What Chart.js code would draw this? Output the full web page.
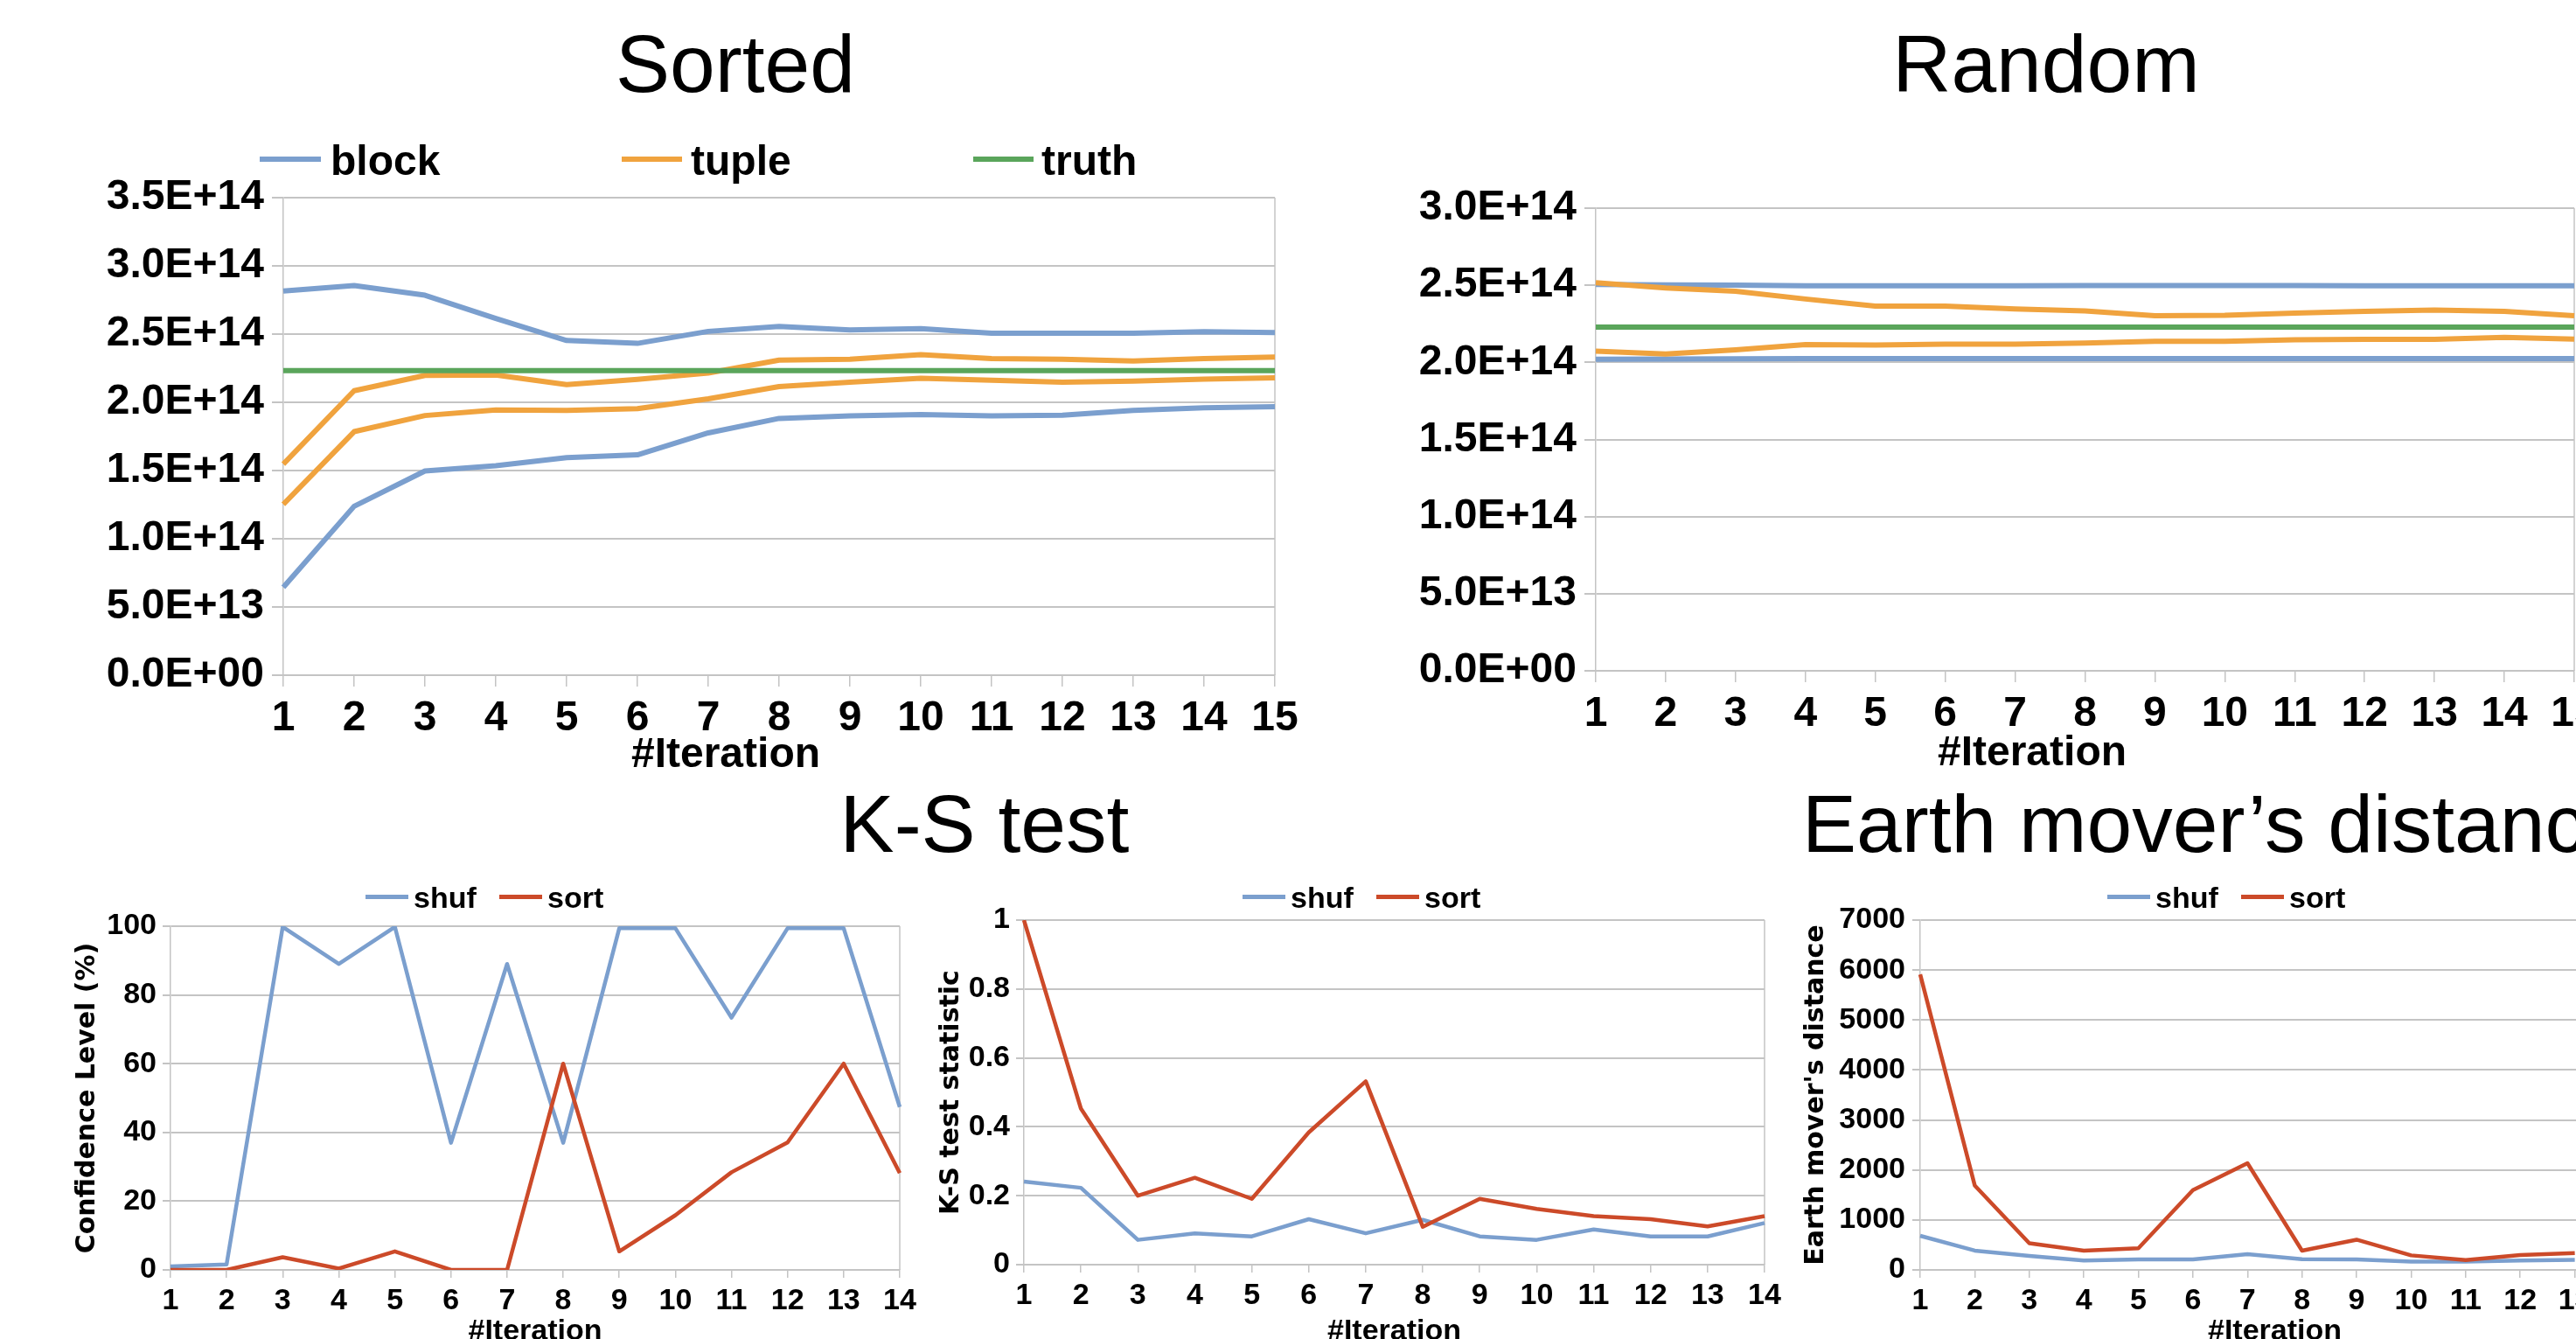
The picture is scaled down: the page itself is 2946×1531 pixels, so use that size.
<!DOCTYPE html>
<html><head><meta charset="utf-8">
<script src="https://cdn.jsdelivr.net/npm/chart.js@4.4.1/dist/chart.umd.min.js"></script>
<style>
html,body{margin:0;padding:0;background:#fff;}
body{width:2946px;height:1531px;overflow:hidden;position:relative;font-family:'Liberation Sans',Arial,sans-serif;}
canvas{position:absolute;}
.t{position:absolute;white-space:nowrap;line-height:1;color:#000;}
.ln{position:absolute;}
</style></head><body>
<script>
// ---------------- data ----------------
const iter15 = ['1','2','3','4','5','6','7','8','9','10','11','12','13','14','15'];
const iter14 = ['1','2','3','4','5','6','7','8','9','10','11','12','13','14'];

const sortedBlockHigh = [2.815e14, 2.856e14, 2.785e14, 2.615e14, 2.453e14, 2.432e14, 2.52e14, 2.556e14, 2.53e14, 2.54e14, 2.506e14, 2.506e14, 2.506e14, 2.517e14, 2.512e14];
const sortedBlockLow  = [0.644e14, 1.238e14, 1.497e14, 1.535e14, 1.594e14, 1.615e14, 1.776e14, 1.882e14, 1.90e14, 1.91e14, 1.90e14, 1.906e14, 1.94e14, 1.96e14, 1.968e14];
const sortedTupleHigh = [1.547e14, 2.085e14, 2.197e14, 2.20e14, 2.13e14, 2.168e14, 2.215e14, 2.309e14, 2.315e14, 2.35e14, 2.32e14, 2.315e14, 2.303e14, 2.32e14, 2.332e14];
const sortedTupleLow  = [1.253e14, 1.785e14, 1.903e14, 1.944e14, 1.94e14, 1.953e14, 2.026e14, 2.115e14, 2.147e14, 2.176e14, 2.162e14, 2.147e14, 2.156e14, 2.17e14, 2.179e14];
const sortedTruth     = [2.232e14, 2.232e14, 2.232e14, 2.232e14, 2.232e14, 2.232e14, 2.232e14, 2.232e14, 2.232e14, 2.232e14, 2.232e14, 2.232e14, 2.232e14, 2.232e14, 2.232e14];

const randomBlockHigh = [2.505e14, 2.503e14, 2.501e14, 2.497e14, 2.497e14, 2.497e14, 2.497e14, 2.498e14, 2.498e14, 2.498e14, 2.498e14, 2.497e14, 2.497e14, 2.497e14, 2.497e14];
const randomBlockLow  = [2.020e14, 2.022e14, 2.023e14, 2.024e14, 2.024e14, 2.025e14, 2.025e14, 2.024e14, 2.024e14, 2.024e14, 2.024e14, 2.024e14, 2.024e14, 2.024e14, 2.024e14];
const randomTupleHigh = [2.516e14, 2.482e14, 2.461e14, 2.411e14, 2.365e14, 2.365e14, 2.347e14, 2.333e14, 2.302e14, 2.305e14, 2.32e14, 2.331e14, 2.339e14, 2.331e14, 2.302e14];
const randomTupleLow  = [2.073e14, 2.055e14, 2.081e14, 2.115e14, 2.112e14, 2.118e14, 2.118e14, 2.125e14, 2.136e14, 2.136e14, 2.146e14, 2.149e14, 2.149e14, 2.162e14, 2.151e14];
const randomTruth     = [2.229e14, 2.229e14, 2.229e14, 2.229e14, 2.229e14, 2.229e14, 2.229e14, 2.229e14, 2.229e14, 2.229e14, 2.229e14, 2.229e14, 2.229e14, 2.229e14, 2.229e14];

const confShuf = [1, 1.6, 99.8, 89, 99.8, 37, 89, 37, 99.4, 99.4, 73.4, 99.4, 99.4, 47.4];
const confSort = [0, 0, 3.7, 0.4, 5.4, 0, 0, 60, 5.4, 15.9, 28.4, 37.1, 60, 28.2];

const ksShuf = [0.241, 0.223, 0.072, 0.091, 0.082, 0.132, 0.091, 0.13, 0.082, 0.072, 0.102, 0.082, 0.082, 0.121];
const ksSort = [1.0, 0.453, 0.2, 0.252, 0.191, 0.384, 0.532, 0.11, 0.191, 0.162, 0.141, 0.132, 0.111, 0.141];

const emdShuf = [682, 386, 279, 190, 208, 208, 314, 214, 208, 166, 166, 190, 202, null];
const emdSort = [5913, 1690, 534, 386, 433, 1596, 2135, 386, 605, 291, 196, 297, 338, null];

const sortedYTicks = ['0.0E+00','5.0E+13','1.0E+14','1.5E+14','2.0E+14','2.5E+14','3.0E+14','3.5E+14'];
const randomYTicks = ['0.0E+00','5.0E+13','1.0E+14','1.5E+14','2.0E+14','2.5E+14','3.0E+14'];
const confYTicks = ['0','20','40','60','80','100'];
const ksYTicks = ['0','0.2','0.4','0.6','0.8','1'];
const emdYTicks = ['0','1000','2000','3000','4000','5000','6000','7000'];

// ---------------- style ----------------
const BLUE = '#7b9fce', ORANGE = '#f0a33e', GREEN = '#5aa55b', RED = '#cc4a29';
const GRID = '#c4c4c4';
const SANS = "'Liberation Sans', Arial, sans-serif";
const DEJAVU = "'DejaVu Sans', Verdana, sans-serif";

const framePlugin = {
  id: 'frame',
  beforeDatasetsDraw(chart, args, opts) {
    const {ctx, chartArea: {top, right, bottom}} = chart;
    ctx.save();
    ctx.strokeStyle = opts.color || GRID;
    ctx.lineWidth = opts.width || 1.5;
    ctx.beginPath();
    ctx.moveTo(right, top);
    ctx.lineTo(right, bottom);
    ctx.stroke();
    ctx.restore();
  }
};

function addText(txt, x, top, size, weight, align) {
  const d = document.createElement('div');
  d.className = 't';
  d.textContent = txt;
  d.style.fontFamily = SANS;
  d.style.fontSize = size + 'px';
  d.style.fontWeight = weight;
  d.style.top = top + 'px';
  if (align === 'center') { d.style.left = x + 'px'; d.style.transform = 'translateX(-50%)'; }
  else d.style.left = x + 'px';
  document.body.appendChild(d);
}
function addLegendLine(x1, x2, yc, th, color) {
  const d = document.createElement('div');
  d.className = 'ln';
  d.style.left = x1 + 'px';
  d.style.width = (x2 - x1) + 'px';
  d.style.top = (yc - th / 2) + 'px';
  d.style.height = th + 'px';
  d.style.background = color;
  document.body.appendChild(d);
}

function makeChart(o) {
  const c = document.createElement('canvas');
  c.width = o.w; c.height = o.h;
  c.style.width = o.w + 'px'; c.style.height = o.h + 'px';
  c.style.left = o.left + 'px'; c.style.top = o.top + 'px';
  document.body.appendChild(c);
  const yScale = {
    min: o.ymin, max: o.ymax,
    ticks: {
      stepSize: o.step, color: '#000', padding: o.ypad,
      font: {family: SANS, size: o.tickSize, weight: 'bold'},
      callback: (v, i) => o.yTicks[i]
    },
    grid: {color: GRID, lineWidth: 2, tickLength: o.tl, drawTicks: true},
    border: {color: GRID, width: 1.5},
    afterFit: s => { s.width = o.yw; }
  };
  if (o.ytitle) {
    yScale.title = {display: true, text: o.ytitle, color: '#000',
      font: {family: DEJAVU, size: 30, weight: 'bold'},
      padding: {top: o.ytitlePad, bottom: 0}};
  }
  const xScale = {
    type: 'category', offset: false,
    ticks: {color: '#000', padding: o.xpad, autoSkip: false, maxRotation: 0, minRotation: 0,
      font: {family: SANS, size: o.tickSize, weight: 'bold'}},
    grid: {drawOnChartArea: false, drawTicks: true, tickLength: o.tl, color: GRID, lineWidth: 1.5},
    border: {color: GRID, width: 2},
    afterFit: s => { s.height = o.xh; }
  };
  if (o.xtitle) {
    xScale.title = {display: true, text: o.xtitle, color: '#000',
      font: {family: SANS, size: 34, weight: 'bold'},
      padding: {top: 0, bottom: o.xtitlePad}};
  }
  return new Chart(c, {
    type: 'line',
    data: {labels: o.labels, datasets: o.datasets},
    options: {
      responsive: false, animation: false, devicePixelRatio: 1,
      layout: {padding: {top: o.padTop, right: o.padRight, left: 0, bottom: 0}},
      plugins: {legend: {display: false}, tooltip: {enabled: false}, frame: {color: GRID, width: 1.5}},
      elements: {line: {tension: 0, borderJoinStyle: 'round', borderCapStyle: 'butt'}, point: {radius: 0}},
      scales: {x: xScale, y: yScale}
    },
    plugins: [framePlugin]
  });
}

function ds(label, data, color, width, order) {
  return {label, data, borderColor: color, backgroundColor: color, borderWidth: width, fill: false, order};
}

// ---------------- top row ----------------
makeChart({
  left: 0, top: 186, w: 1498, h: 666, padTop: 40, padRight: 40, yw: 324, xh: 80,
  tl: 13, ypad: 9, xpad: 8, tickSize: 48,
  ymin: 0, ymax: 3.5e14, step: 5e13, yTicks: sortedYTicks, labels: iter15,
  datasets: [
    ds('truth', sortedTruth, GREEN, 6, 0),
    ds('tuple', sortedTupleHigh, ORANGE, 6, 1),
    ds('tuple', sortedTupleLow, ORANGE, 6, 1),
    ds('block', sortedBlockHigh, BLUE, 6, 2),
    ds('block', sortedBlockLow, BLUE, 6, 2)
  ]
});
makeChart({
  left: 1600, top: 198, w: 1384, h: 649, padTop: 40, padRight: 40, yw: 225, xh: 80,
  tl: 13, ypad: 9, xpad: 8, tickSize: 48,
  ymin: 0, ymax: 3.0e14, step: 5e13, yTicks: randomYTicks, labels: iter15,
  datasets: [
    ds('truth', randomTruth, GREEN, 6, 0),
    ds('tuple', randomTupleHigh, ORANGE, 6, 1),
    ds('tuple', randomTupleLow, ORANGE, 6, 1),
    ds('block', randomBlockHigh, BLUE, 6, 2),
    ds('block', randomBlockLow, BLUE, 6, 2)
  ]
});

// ---------------- bottom row ----------------
makeChart({
  left: 40, top: 1029, w: 1014, h: 531, padTop: 30, padRight: 25, yw: 155, xh: 108,
  tl: 9, ypad: 7, xpad: 6, tickSize: 34,
  ymin: 0, ymax: 100, step: 20, yTicks: confYTicks, labels: iter14,
  ytitle: 'Confidence Level (%)', ytitlePad: 42, xtitle: '#Iteration', xtitlePad: 16.6,
  datasets: [ds('sort', confSort, RED, 4.5, 0), ds('shuf', confShuf, BLUE, 4.5, 1)]
});
makeChart({
  left: 1050, top: 1022, w: 993, h: 538, padTop: 30, padRight: 25, yw: 121, xh: 114,
  tl: 9, ypad: 7, xpad: 6, tickSize: 34,
  ymin: 0, ymax: 1, step: 0.2, yTicks: ksYTicks, labels: iter14,
  ytitle: 'K-S test statistic', ytitlePad: 20, xtitle: '#Iteration', xtitlePad: 16.6,
  datasets: [ds('sort', ksSort, RED, 4.5, 0), ds('shuf', ksShuf, BLUE, 4.5, 1)]
});
makeChart({
  left: 2040, top: 1022, w: 992, h: 538, padTop: 30, padRight: 25, yw: 156, xh: 108,
  tl: 9, ypad: 8, xpad: 6, tickSize: 34,
  ymin: 0, ymax: 7000, step: 1000, yTicks: emdYTicks, labels: iter14,
  ytitle: "Earth mover's distance", ytitlePad: 19, xtitle: '#Iteration', xtitlePad: 16.6,
  datasets: [ds('sort', emdSort, RED, 4.5, 0), ds('shuf', emdShuf, BLUE, 4.5, 1)]
});

// ---------------- titles & legends (HTML text) ----------------
addText('Sorted', 841, 27, 93, 'normal', 'center');
addText('Random', 2340, 27, 93, 'normal', 'center');
addText('K-S test', 1126, 896, 93, 'normal', 'center');
addText('Earth mover\u2019s distance', 2061, 896, 93, 'normal', 'left');

addText('#Iteration', 830, 837, 48, 'bold', 'center');
addText('#Iteration', 2324, 835, 48, 'bold', 'center');

// Sorted legend
addLegendLine(297, 367, 182, 6, BLUE);   addText('block', 378, 160, 48, 'bold', 'left');
addLegendLine(711, 780, 182, 6, ORANGE); addText('tuple', 790, 160, 48, 'bold', 'left');
addLegendLine(1113, 1182, 182, 6, GREEN); addText('truth', 1191, 160, 48, 'bold', 'left');

// bottom legends
function shufSortLegend(x0) {
  addLegendLine(x0, x0 + 49, 1025, 5, BLUE);
  addText('shuf', x0 + 55, 1009, 34, 'bold', 'left');
  addLegendLine(x0 + 153, x0 + 202, 1025, 5, RED);
  addText('sort', x0 + 208, 1009, 34, 'bold', 'left');
}
shufSortLegend(418);
shufSortLegend(1421);
shufSortLegend(2410);
</script>
</body></html>
